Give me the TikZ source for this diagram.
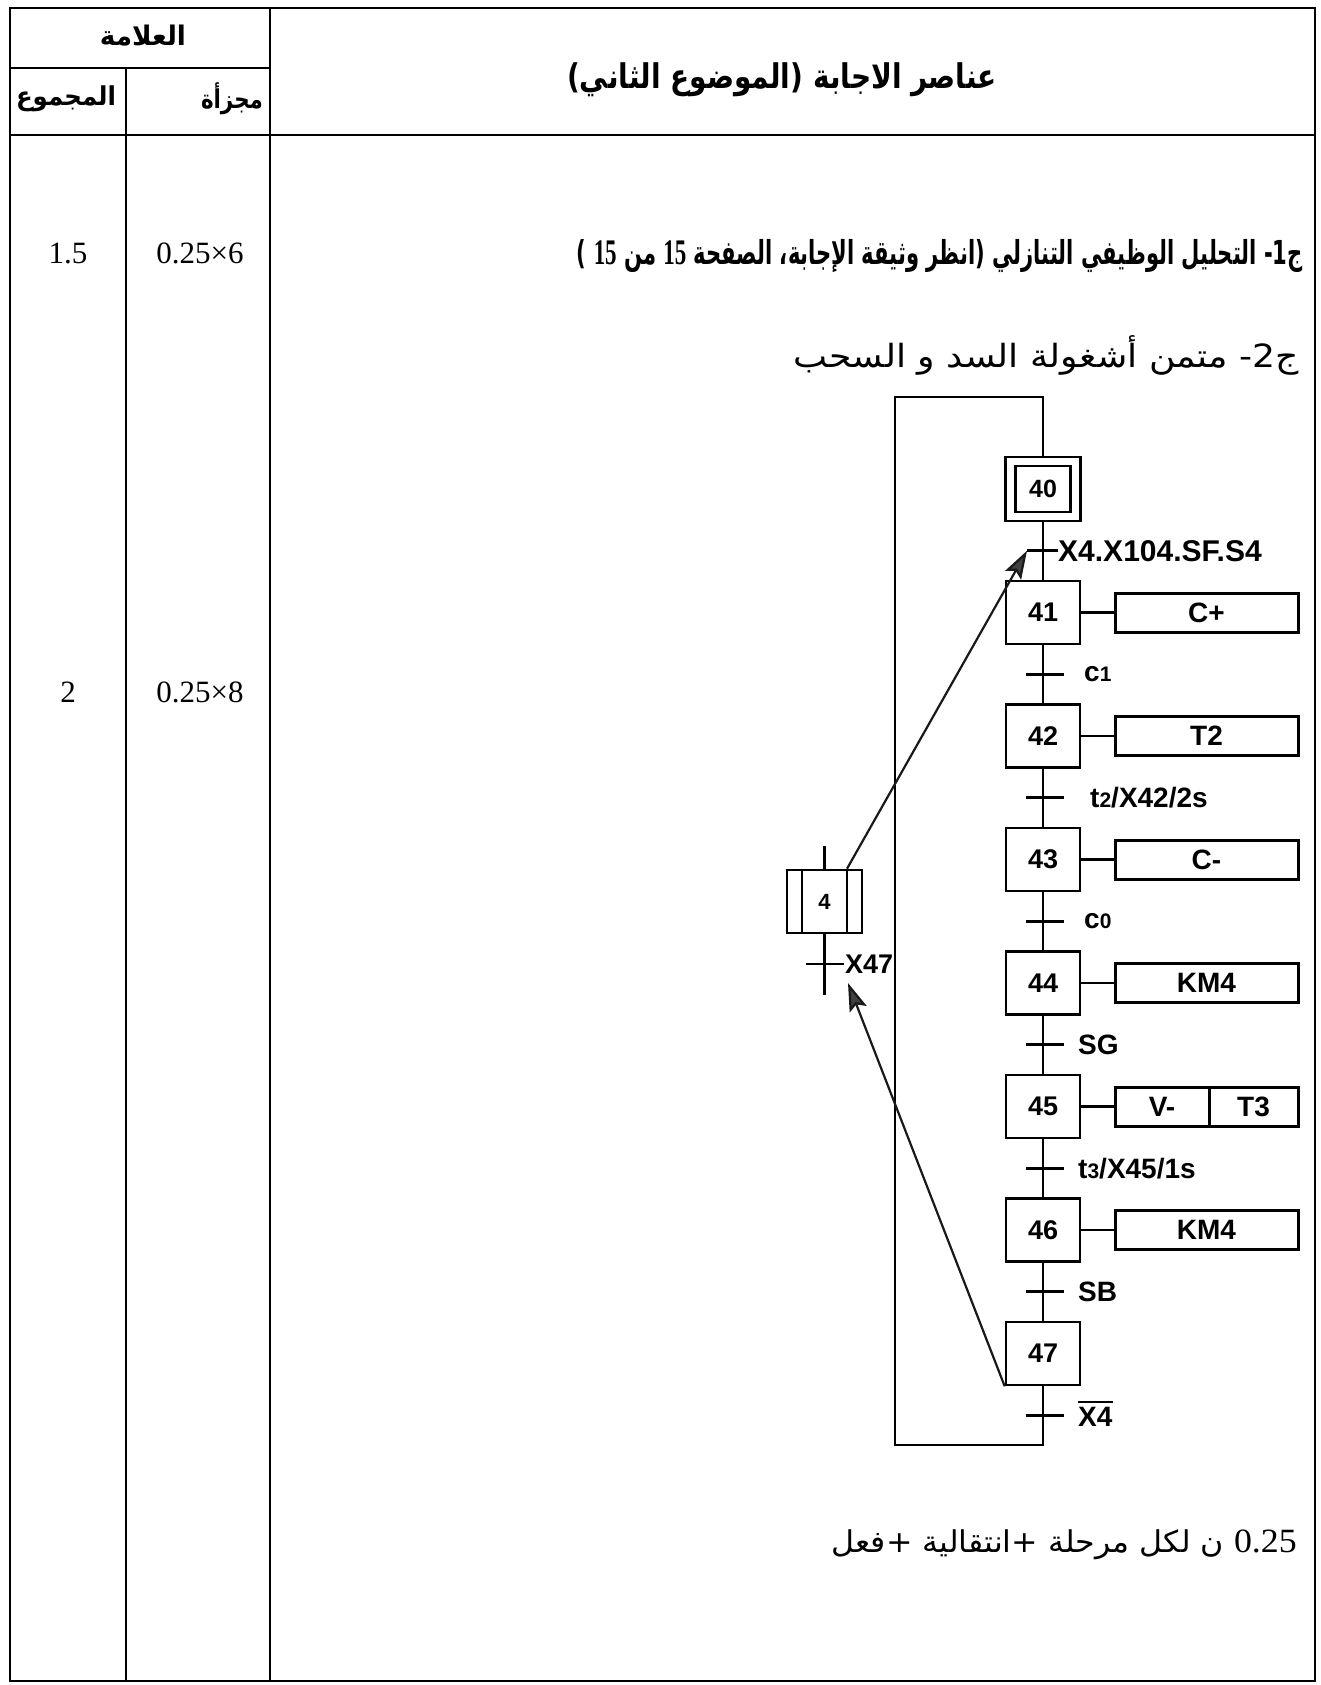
\documentclass[tikz,border=0pt]{standalone}
\usepackage{graphicx}
\usepackage{fontspec}
\setmainfont{Liberation Serif}
\setsansfont{Liberation Sans}
\newfontfamily\arabicfont[Script=Arabic]{DejaVu Sans}
\usetikzlibrary{arrows.meta}
\TeXXeTstate=1
\newcommand{\fitw}[2]{\resizebox{#1}{\height}{#2}}
\newcommand{\smd}[1]{{\fontsize{21}{24}\selectfont #1}}
\newcommand{\bignum}[1]{{\rmfamily\bfseries\fontsize{36}{40}\selectfont #1}}
\tikzset{
  ln/.style={line width=2.6pt},
  tline/.style={line width=1.8pt},
  stepbox/.style={draw, line width=2.6pt, minimum width=74pt, minimum height=63pt, inner sep=0pt,
     font=\sffamily\bfseries\fontsize{27}{30}\selectfont},
  actbox/.style={draw, line width=3pt, minimum height=39pt, inner sep=0pt,
     font=\sffamily\bfseries\fontsize{28}{30}\selectfont},
  trlabel/.style={anchor=west, inner sep=0pt, font=\sffamily\bfseries\fontsize{28}{30}\selectfont},
  bar/.style={line width=2.6pt},
  arr/.style={line width=2.2pt, draw=black!90, -{Stealth[length=28pt,width=18pt,inset=5pt,fill=black!75]}},
  tabtxt/.style={inner sep=0pt, font=\fontsize{31}{34}\selectfont},
  artxt/.style={inner sep=0pt, font=\arabicfont\fontsize{32}{38}\selectfont},
  artxtb/.style={inner sep=0pt, font=\arabicfont\bfseries\fontsize{33}{38}\selectfont}
}
\begin{document}
\begin{tikzpicture}[x=1pt,y=-1pt]
\useasboundingbox (0,0) rectangle (1321,1685);
\fill[white] (0,0) rectangle (1321,1685);
% ---------- table ----------
\draw[tline] (10,8) rectangle (1315,1681);
\draw[tline] (270,8) -- (270,1681);
\draw[tline] (126,68) -- (126,1681);
\draw[tline] (10,68) -- (270,68);
\draw[tline] (10,135) -- (1315,135);
\node[artxtb, font=\arabicfont\bfseries\fontsize{27}{32}\selectfont] (hA) at (143,36) {\fitw{86pt}{\beginR العلامة\endR}};
\node[artxtb, font=\arabicfont\bfseries\fontsize{26}{32}\selectfont] (hB) at (66,99) {\fitw{100pt}{\beginR المجموع\endR}};
\node[artxtb, font=\arabicfont\bfseries\fontsize{26}{32}\selectfont] (hC) at (232,99) {\fitw{62pt}{\beginR مجزأة\endR}};
\node[artxtb, font=\arabicfont\bfseries\fontsize{34}{40}\selectfont] (hD) at (782,80) {\fitw{430pt}{\beginR عناصر الاجابة (الموضوع الثاني)\endR}};
\node[tabtxt] (r1a) at (68,253) {1.5};
\node[tabtxt] (r1b) at (200,253) {0.25×6};
\node[tabtxt] (r2a) at (68,692) {2};
\node[tabtxt] (r2b) at (200,692) {0.25×8};
\node[artxtb, anchor=east] (q1) at (1303,256) {\fitw{726pt}{\beginR ج1- التحليل الوظيفي التنازلي (انظر وثيقة الإجابة، الصفحة \beginL\bignum{15}\endL{} من \beginL\bignum{15}\endL{} )\endR}};
\node[artxt, anchor=east] (q2) at (1299,355) {\fitw{505pt}{\beginR ج2- متمن أشغولة السد و السحب\endR}};
\node[artxt, anchor=east, font=\arabicfont\fontsize{30}{36}\selectfont] (foot) at (1297,1545) {\fitw{465pt}{\beginR\beginL{\rmfamily\fontsize{34}{38}\selectfont 0.25}\endL{} ن لكل مرحلة +انتقالية +فعل\endR}};
% ---------- grafcet steps ----------
\node[stepbox, minimum width=75pt, minimum height=64pt] (s40) at (1043,489) {};
\node[stepbox, minimum width=55pt, minimum height=46pt, font=\sffamily\bfseries\fontsize{25}{28}\selectfont] (s40i) at (1043,489) {40};
\node[stepbox] (s41) at (1043,612.5) {41};
\node[stepbox] (s42) at (1043,736) {42};
\node[stepbox] (s43) at (1043,859.5) {43};
\node[stepbox] (s44) at (1043,983) {44};
\node[stepbox] (s45) at (1043,1106.5) {45};
\node[stepbox] (s46) at (1043,1230) {46};
\node[stepbox] (s47) at (1043,1353.5) {47};
% actions
\node[actbox, minimum width=183pt] (a41) at (1206.5,612.5) {C+};
\node[actbox, minimum width=183pt] (a42) at (1206.5,736) {T2};
\node[actbox, minimum width=183pt] (a43) at (1206.5,859.5) {C-};
\node[actbox, minimum width=183pt] (a44) at (1206.5,983) {KM4};
\node[actbox, minimum width=94pt] (a45a) at (1162,1106.5) {V-};
\node[actbox, minimum width=89pt] (a45b) at (1253.5,1106.5) {T3};
\node[actbox, minimum width=183pt] (a46) at (1206.5,1230) {KM4};
\draw[ln] (s41.east) -- (a41.west);
\draw[ln] (s42.east) -- (a42.west);
\draw[ln] (s43.east) -- (a43.west);
\draw[ln] (s44.east) -- (a44.west);
\draw[ln] (s45.east) -- (a45a.west);
\draw[ln] (s46.east) -- (a46.west);
% transitions
\coordinate (t40) at (1043,550.75);
\coordinate (t41) at (1043,674.25);
\coordinate (t42) at (1043,797.75);
\coordinate (t43) at (1043,921.25);
\coordinate (t44) at (1043,1044.75);
\coordinate (t45) at (1043,1168.25);
\coordinate (t46) at (1043,1291.75);
\coordinate (t47) at (1043,1415.25);
\coordinate (t40w) at (1027,550.75);
\foreach \t in {41,42,43,44,45,46,47}{
  \draw[bar] ([xshift=-17pt]t\t) -- ([xshift=21pt]t\t);
}
\draw[bar] (t40w) -- ([xshift=15pt]t40);
\node[trlabel, font=\sffamily\bfseries\fontsize{30}{32}\selectfont] (l40) at (1058,550.75) {X4.X104.SF.S4};
\node[trlabel] (l41) at (1084,674.25) {c\smd{1}};
\node[trlabel] (l42) at (1090,797.75) {t\smd{2}/X42/2s};
\node[trlabel] (l43) at (1084,921.25) {c\smd{0}};
\node[trlabel] (l44) at (1078,1044.75) {SG};
\node[trlabel] (l45) at (1078,1168.25) {t\smd{3}/X45/1s};
\node[trlabel] (l46) at (1078,1291.75) {SB};
\node[trlabel] (l47) at (1078,1417) {X4};
\draw[line width=2.4pt] ([yshift=5pt]l47.north west) -- ([yshift=5pt]l47.north east);
% links
\coordinate (lb1) at (1043,1445);
\coordinate (lb2) at (895,1445);
\coordinate (lb3) at (895,397);
\coordinate (lb4) at (1043,397);
\draw[ln] (s40.south) -- (s41.north);
\draw[ln] (s41.south) -- (s42.north);
\draw[ln] (s42.south) -- (s43.north);
\draw[ln] (s43.south) -- (s44.north);
\draw[ln] (s44.south) -- (s45.north);
\draw[ln] (s45.south) -- (s46.north);
\draw[ln] (s46.south) -- (s47.north);
\draw[ln] (s47.south) -- (lb1) -- (lb2) -- (lb3) -- (lb4) -- (s40.north);
% macro step 4
\node[stepbox, minimum width=75pt, minimum height=63pt, font=\sffamily\bfseries\fontsize{22}{26}\selectfont] (s4) at (824.5,901.5) {4};
\draw[ln] ([xshift=-22.5pt]s4.north) -- ([xshift=-22.5pt]s4.south);
\draw[ln] ([xshift=22.5pt]s4.north) -- ([xshift=22.5pt]s4.south);
\coordinate (s4top) at (824.5,846);
\coordinate (s4bot) at (824.5,995);
\coordinate (t4) at (824.5,964);
\draw[ln] (s4top) -- (s4.north);
\draw[ln] (s4.south) -- (s4bot);
\draw[bar] ([xshift=-19pt]t4) -- ([xshift=19pt]t4);
\node[trlabel, font=\sffamily\bfseries\fontsize{27}{28}\selectfont] (l4) at (845,964) {X47};
% arrows
\coordinate (tip2) at (848,983);
\draw[arr] ([xshift=22.5pt]s4.north) -- (t40w);
\draw[arr] (s47.south west) -- (tip2);
\end{tikzpicture}
\end{document}
